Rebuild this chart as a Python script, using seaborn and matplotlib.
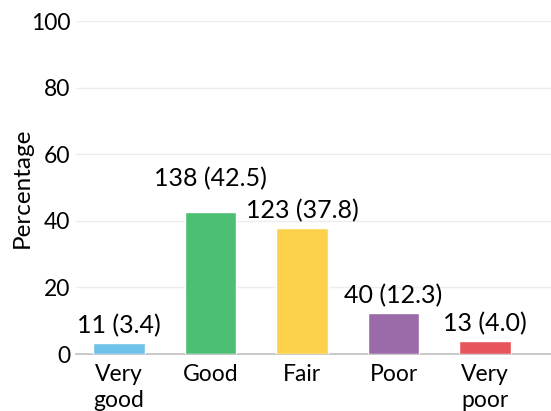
import numpy as np
import pandas as pd
import seaborn as sns
import matplotlib.pyplot as plt

# data
categories = ['Very\ngood', 'Good', 'Fair', 'Poor', 'Very\npoor']
counts = [11, 138, 123, 40, 13]
percents = [3.4, 42.5, 37.8, 12.3, 4.0]
colors = ['#6ec1e8', '#4cbf75', '#fcd24c', '#9b6ba9', '#e8545b']

df = pd.DataFrame({'category': categories, 'percent': percents, 'count': counts})

sns.set_style('white')
plt.rcParams['font.family'] = ['Lato', 'DejaVu Sans']
plt.rcParams['text.color'] = 'black'
plt.rcParams['xtick.color'] = 'black'
plt.rcParams['ytick.color'] = 'black'
plt.rcParams['axes.labelcolor'] = 'black'

fig = plt.figure(figsize=(5.51, 4.11), dpi=100)
ax = fig.add_axes([76 / 551, (411 - 354) / 411, 1 - 76 / 551, (354 - 21) / 411])

sns.barplot(data=df, x='category', y='percent', hue='category', palette=colors,
            legend=False, width=0.56, saturation=1, ax=ax, zorder=3)

# value labels; lift the "Good" one so it clears its neighbour
for i, (c, p) in enumerate(zip(counts, percents)):
    lift = 7.8 if categories[i] == 'Good' else 2.9
    ax.text(i, p + lift, f"{c} ({p:.1f})", ha='center', va='baseline', fontsize=18)

ax.set_ylim(0, 100)
ax.set_xlim(-0.47, 4.72)
ax.set_yticks(range(0, 101, 20))
ax.yaxis.grid(True, color='#ededed', linewidth=1, zorder=0)
ax.tick_params(axis='both', labelsize=16.5, length=0)
ax.tick_params(axis='x', pad=7)
ax.tick_params(axis='y', pad=4)
for t in ax.get_xticklabels():
    t.set_linespacing(1.3)
ax.set_xlabel('')
ax.set_ylabel('Percentage', fontsize=17.5)
ax.yaxis.set_label_coords(-0.092, 0.5)
for s in ['top', 'right', 'left']:
    ax.spines[s].set_visible(False)
ax.spines['bottom'].set_color('#bfbfbf')
ax.spines['bottom'].set_linewidth(1.2)

plt.savefig('out.png', dpi=100)
